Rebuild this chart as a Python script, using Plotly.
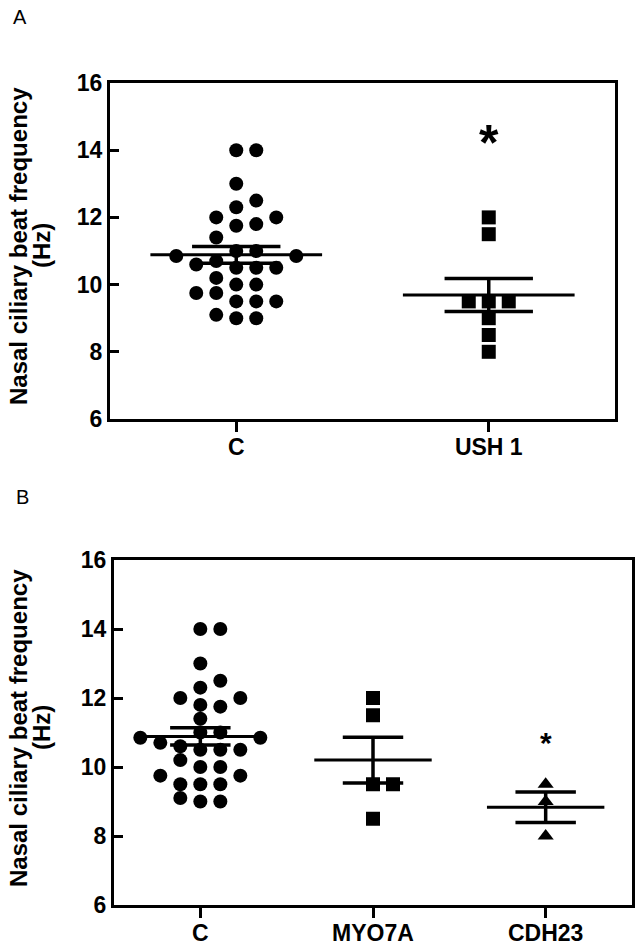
import numpy as np
import plotly.graph_objects as go

# ---------------- data ----------------
panel_a_categories = ["C", "USH 1"]
panel_b_categories = ["C", "MYO7A", "CDH23"]

control_cbf = [14.0, 14.0, 13.0, 12.5, 12.3, 12.0, 12.0, 11.8, 11.75, 11.4,
               11.0, 11.0, 10.85, 10.85, 10.7, 10.6, 10.5, 10.5, 10.5, 10.2,
               10.0, 10.0, 9.75, 9.75, 9.5, 9.5, 9.5, 9.1, 9.0, 9.0]
ush1_cbf = [12.0, 11.5, 9.5, 9.5, 9.5, 9.0, 8.5, 8.0]
myo7a_cbf = [12.0, 11.5, 9.5, 9.5, 8.5]
cdh23_cbf = [9.5, 9.0, 8.0]

y_tick_values = [6, 8, 10, 12, 14, 16]
y_range = [6, 16]
y_title_line1 = "Nasal ciliary beat frequency"
y_title_line2 = "(Hz)"
significance_mark = "*"

# ---------------- layout geometry ----------------
W, H = 641, 947
FONT = "Liberation Sans, Arial, sans-serif"
xdom_a = [110 / W, 615 / W]
ydom_a = [1 - 419 / H, 1 - 83 / H]
xdom_b = [114 / W, 632 / W]
ydom_b = [1 - 905 / H, 1 - 560 / H]


def swarm_offsets(values, px_per_x, px_per_y, step_px=20.0, min_px=13.5):
    order = np.argsort(values, kind="stable")
    placed = []  # (col, value)
    offs = [0.0] * len(values)
    cols = [0]
    for k in range(1, 8):
        cols += [k, -k]
    for i in order:
        v = values[i]
        for c in cols:
            ok = True
            for (pc, pv) in placed:
                dx = (c - pc) * step_px
                dy = (v - pv) * px_per_y
                if (dx * dx + dy * dy) ** 0.5 < min_px:
                    ok = False
                    break
            if ok:
                placed.append((c, v))
                offs[i] = c * step_px / px_per_x
                break
    return offs


def mean_sem(vals):
    a = np.asarray(vals, dtype=float)
    return a.mean(), a.std(ddof=1) / np.sqrt(len(a))


fig = go.Figure()


def add_group(vals, pos, symbol, size, xa, ya, px_x, px_y):
    offs = swarm_offsets(vals, px_x, px_y)
    fig.add_trace(go.Scatter(
        x=[pos + o for o in offs], y=vals, mode="markers", xaxis=xa, yaxis=ya,
        marker=dict(symbol=symbol, size=size, color="black", line=dict(width=0)),
        showlegend=False, hoverinfo="y"))
    m, s = mean_sem(vals)
    fig.add_trace(go.Scatter(
        x=[pos - 0.34, pos + 0.34], y=[m, m], mode="lines", xaxis=xa, yaxis=ya,
        line=dict(color="black", width=3), showlegend=False, hoverinfo="skip"))
    fig.add_trace(go.Scatter(
        x=[pos - 0.175, pos + 0.175, None, pos - 0.175, pos + 0.175, None, pos, pos],
        y=[m + s, m + s, None, m - s, m - s, None, m - s, m + s],
        mode="lines", xaxis=xa, yaxis=ya,
        line=dict(color="black", width=3.5), showlegend=False, hoverinfo="skip"))


pxx_a = (xdom_a[1] - xdom_a[0]) * W / 2
pxy_a = (ydom_a[1] - ydom_a[0]) * H / (y_range[1] - y_range[0])
pxx_b = (xdom_b[1] - xdom_b[0]) * W / 3
pxy_b = (ydom_b[1] - ydom_b[0]) * H / (y_range[1] - y_range[0])

add_group(control_cbf, 0, "circle", 14, "x", "y", pxx_a, pxy_a)
add_group(ush1_cbf, 1, "square", 14, "x", "y", pxx_a, pxy_a)
add_group(control_cbf, 0, "circle", 14, "x2", "y2", pxx_b, pxy_b)
add_group(myo7a_cbf, 1, "square", 14, "x2", "y2", pxx_b, pxy_b)
add_group(cdh23_cbf, 2, "triangle-up", 14, "x2", "y2", pxx_b, pxy_b)

tickfont = dict(family=FONT, size=23, color="black", weight="bold")
common_x = dict(showline=True, linewidth=3, linecolor="black", mirror=True,
                ticks="outside", ticklen=10, tickwidth=3, tickcolor="black",
                ticklabelstandoff=-5,
                showgrid=False, zeroline=False, tickfont=tickfont, automargin=False,
                fixedrange=True)
common_y = dict(showline=True, linewidth=3, linecolor="black", mirror=True,
                ticks="inside", ticklen=9, tickwidth=3, tickcolor="black",
                showgrid=False, zeroline=False, tickfont=tickfont, automargin=False,
                range=y_range, tickvals=y_tick_values,
                ticktext=[str(v) for v in y_tick_values], fixedrange=True)

fig.update_layout(
    width=W, height=H,
    margin=dict(l=0, r=0, t=0, b=0),
    paper_bgcolor="white", plot_bgcolor="white",
    showlegend=False,
    xaxis=dict(common_x, domain=xdom_a, range=[-0.5, 1.5],
               tickvals=list(range(len(panel_a_categories))), ticktext=panel_a_categories,
               anchor="y"),
    yaxis=dict(common_y, domain=ydom_a, anchor="x"),
    xaxis2=dict(common_x, domain=xdom_b, range=[-0.5, 2.5],
                tickvals=list(range(len(panel_b_categories))), ticktext=panel_b_categories,
                anchor="y2"),
    yaxis2=dict(common_y, domain=ydom_b, anchor="x2"),
)

annotations = []
for yc in (246, 728):
    annotations.append(dict(text=y_title_line1, x=18 / W, y=1 - yc / H, xref="paper", yref="paper",
                            textangle=-90, showarrow=False, xanchor="center", yanchor="middle",
                            font=dict(family=FONT, size=24, color="black", weight="bold")))
    annotations.append(dict(text=y_title_line2, x=41 / W, y=1 - yc / H, xref="paper", yref="paper",
                            textangle=-90, showarrow=False, xanchor="center", yanchor="middle",
                            font=dict(family=FONT, size=24, color="black", weight="bold")))

annotations.append(dict(text="A", x=20 / W, y=1 - 17 / H, xref="paper", yref="paper",
                        showarrow=False, xanchor="center", yanchor="middle",
                        font=dict(family=FONT, size=20, color="black")))
annotations.append(dict(text="B", x=22 / W, y=1 - 497 / H, xref="paper", yref="paper",
                        showarrow=False, xanchor="center", yanchor="middle",
                        font=dict(family=FONT, size=20, color="black")))

annotations.append(dict(text=significance_mark, x=1, y=14.2, xref="x", yref="y",
                        showarrow=False, xanchor="center", yanchor="middle",
                        font=dict(family=FONT, size=50, color="black", weight="bold")))
annotations.append(dict(text=significance_mark, x=2, y=10.7, xref="x2", yref="y2",
                        showarrow=False, xanchor="center", yanchor="middle",
                        font=dict(family=FONT, size=30, color="black", weight="bold")))

fig.update_layout(annotations=annotations)

fig.write_html("out.html",
               config={"displayModeBar": False},
               post_script="document.body.style.margin='0';document.body.style.overflow='hidden';")
